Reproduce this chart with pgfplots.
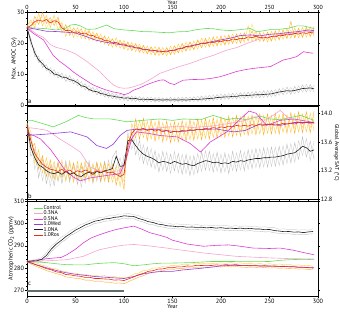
\documentclass[border=0pt]{standalone}
\usepackage{fontspec}
\setmainfont{PT Sans}
\usepackage{pgfplots}
\usepackage{pgfplotstable}
\pgfplotsset{compat=1.18}

\definecolor{ctrl}{RGB}{102,221,85}
\definecolor{nathree}{RGB}{245,165,205}
\definecolor{nafive}{RGB}{220,60,210}
\definecolor{wed}{RGB}{150,60,220}
\definecolor{nablk}{RGB}{30,30,30}
\definecolor{ros}{RGB}{232,45,20}
\definecolor{ensA}{RGB}{255,200,50}
\definecolor{ensB}{RGB}{255,165,25}
\definecolor{ensC}{RGB}{255,222,110}
\definecolor{ensG}{RGB}{205,205,205}
\definecolor{ensH}{RGB}{185,185,185}
\definecolor{fwbar}{RGB}{95,112,108}

% AMOC maximum (Sv): ensemble means and members
\pgfplotstableread{
t red y1 y2 y3 blk g1 g2
0 25.0 25.5 24.6 25.2 25.0 25.3 24.7
4 25.6 27.5 24.2 26.8 20.5 19.2 21.5
8 26.9 25.0 28.6 25.9 16.8 18.0 15.5
12 27.4 29.5 26.0 27.8 14.5 13.6 15.8
16 27.0 25.6 29.8 28.4 13.3 14.6 12.1
20 27.6 28.9 26.3 24.8 11.8 11.0 13.0
24 26.5 24.9 28.2 27.3 11.2 12.1 10.0
28 27.2 29.0 25.6 26.4 10.0 9.3 11.4
32 26.8 24.3 28.4 27.6 9.7 10.6 8.7
36 24.9 26.6 23.2 25.5 9.0 8.4 10.3
40 24.0 22.1 25.9 24.6 8.9 9.8 7.6
44 24.1 25.5 22.4 23.0 8.2 7.4 9.5
48 23.4 21.8 24.9 24.2 7.9 8.6 6.8
52 23.6 25.0 22.9 21.9 7.2 6.1 8.3
56 23.0 21.5 24.6 23.8 6.2 7.6 5.6
60 23.2 24.4 21.3 22.5 5.9 4.8 6.9
64 22.5 20.9 23.9 24.3 5.0 6.3 4.4
68 22.4 23.6 21.0 20.8 4.5 3.9 5.7
72 21.7 20.4 23.2 22.7 4.3 5.4 3.3
76 21.5 22.9 20.1 21.0 3.7 3.0 4.8
80 20.8 19.6 22.3 22.0 3.5 4.6 2.6
84 20.7 22.0 19.2 20.1 3.0 2.3 4.1
88 20.1 18.6 21.4 21.2 2.9 3.9 2.0
92 20.2 21.7 18.8 19.3 2.6 1.8 3.5
96 19.6 18.3 21.0 20.5 2.5 3.6 1.6
100 19.7 20.9 18.0 18.6 2.2 1.4 3.2
104 19.0 17.6 20.4 19.9 2.3 3.0 1.3
108 19.1 20.2 17.5 18.0 2.0 1.2 2.9
112 18.4 17.2 19.8 19.5 2.1 2.8 1.1
116 18.5 19.6 17.0 17.4 1.8 1.0 2.7
120 17.8 16.7 19.3 18.9 1.9 2.6 1.0
124 17.9 19.0 16.5 16.9 1.7 0.9 2.5
128 17.4 16.2 18.8 18.6 1.8 2.6 1.0
132 17.6 18.9 16.0 16.6 1.6 0.9 2.4
136 17.1 15.9 18.7 18.2 1.7 2.5 1.0
140 17.3 18.6 16.1 16.3 1.6 0.9 2.3
144 17.1 15.8 18.5 18.4 1.7 2.4 1.0
148 17.6 19.0 16.2 16.5 1.6 0.9 2.5
152 17.5 16.3 19.1 18.9 1.7 2.4 1.0
156 18.2 19.6 16.8 17.0 1.6 0.9 2.5
160 18.2 17.0 19.9 19.6 1.7 2.6 1.0
164 18.9 20.3 17.4 17.6 1.6 1.0 2.5
168 18.7 17.5 20.4 20.1 1.7 2.6 1.1
172 19.3 20.7 17.8 18.0 1.8 1.1 2.7
176 19.4 18.1 21.0 20.6 1.8 2.8 1.2
180 20.0 21.6 18.4 18.9 1.9 1.2 2.9
184 19.8 18.6 21.5 21.0 2.0 3.0 1.3
188 20.3 21.8 18.7 19.2 2.1 1.4 3.1
192 20.1 18.9 22.0 21.4 2.2 3.3 1.4
196 20.6 22.2 19.0 19.5 2.4 1.6 3.4
200 20.4 19.2 22.3 21.6 2.5 3.6 1.7
204 20.9 22.5 19.3 19.8 2.6 1.8 3.5
208 20.7 19.5 22.6 22.1 2.6 3.7 1.8
212 21.3 22.9 19.8 20.2 2.8 1.9 3.8
216 21.1 19.9 23.0 22.4 2.8 3.9 2.0
220 21.5 23.2 20.0 20.5 3.0 2.0 4.0
224 21.4 20.2 23.3 22.8 3.0 4.1 2.1
228 22.0 25.6 20.6 21.0 3.1 2.2 4.2
232 21.7 20.4 23.9 26.2 3.2 4.3 2.2
236 22.2 23.7 20.7 21.3 3.3 2.3 4.4
240 21.7 20.4 23.4 22.9 3.3 4.5 2.3
244 21.9 23.4 20.5 20.9 3.4 2.4 4.6
248 21.6 20.3 23.5 23.1 3.5 4.7 2.5
252 22.1 23.8 20.6 21.0 3.6 2.6 4.8
256 22.0 20.8 23.9 23.4 3.9 5.0 2.8
260 22.5 24.2 21.0 21.4 4.2 3.1 5.3
264 22.4 21.2 24.3 23.8 4.4 5.6 3.3
268 22.9 24.6 21.4 21.7 4.6 3.5 5.8
272 22.7 21.5 27.0 24.2 4.5 5.7 3.4
276 23.1 24.8 21.6 22.0 4.7 3.6 6.0
280 22.9 21.7 24.8 24.4 5.0 6.2 3.9
284 23.3 25.0 21.8 22.2 5.3 4.1 6.5
288 23.1 21.9 25.1 24.6 5.4 6.7 4.2
292 23.4 25.2 22.0 22.4 5.5 4.3 6.6
296 23.2 22.1 25.3 24.7 5.2 6.4 4.1
}\amoc

% Global average surface air temperature (degC)
\pgfplotstableread{
t red y1 y2 y3 blk g1 g2
0 13.83 13.86 13.80 13.84 13.85 13.87 13.82
4 13.62 13.74 13.50 13.66 13.52 13.63 13.40
8 13.44 13.30 13.58 13.41 13.38 13.22 13.50
12 13.36 13.49 13.22 13.30 13.28 13.38 13.10
16 13.29 13.17 13.41 13.36 13.25 13.06 13.37
20 13.25 13.38 13.12 13.20 13.20 13.30 13.02
24 13.22 13.10 13.35 13.30 13.17 12.98 13.27
28 13.21 13.33 13.08 13.14 13.16 13.28 12.99
32 13.19 13.06 13.31 13.27 13.18 13.05 13.33
36 13.22 13.35 13.10 13.16 13.15 13.29 13.02
40 13.18 13.05 13.29 13.26 13.19 13.08 13.34
44 13.21 13.34 13.08 13.13 13.15 13.30 13.04
48 13.17 13.04 13.30 13.25 13.17 13.06 13.31
52 13.20 13.33 13.07 13.12 13.13 13.27 13.01
56 13.18 13.06 13.31 13.27 13.12 12.97 13.26
60 13.21 13.34 13.09 13.14 13.16 13.29 13.03
64 13.19 13.05 13.30 13.24 13.18 13.08 13.34
68 13.17 13.30 13.05 13.12 13.15 13.28 13.02
72 13.20 13.08 13.32 13.27 13.19 13.05 13.31
76 13.18 13.31 13.06 13.11 13.17 13.30 13.04
80 13.19 13.05 13.31 13.25 13.20 13.07 13.33
84 13.17 13.30 13.04 13.10 13.21 13.35 13.08
88 13.18 13.04 13.29 13.23 13.23 13.12 13.38
92 13.15 13.27 13.00 13.07 13.40 13.26 13.48
96 13.12 12.98 13.24 13.20 13.26 13.38 13.10
100 13.15 13.30 12.94 13.05 13.27 13.12 13.40
104 13.55 13.42 13.68 13.60 13.62 13.74 13.48
108 13.72 13.86 13.60 13.70 13.63 13.50 13.76
112 13.78 13.66 13.92 13.84 13.55 13.68 13.42
116 13.77 13.90 13.64 13.72 13.48 13.35 13.62
120 13.79 13.66 13.93 13.86 13.43 13.56 13.30
124 13.76 13.89 13.62 13.70 13.40 13.28 13.53
128 13.78 13.64 13.91 13.85 13.38 13.51 13.25
132 13.75 13.88 13.61 13.68 13.35 13.22 13.48
136 13.77 13.63 13.90 13.83 13.31 13.44 13.18
140 13.74 13.87 13.60 13.66 13.33 13.20 13.47
144 13.76 13.62 13.89 13.82 13.32 13.46 13.19
148 13.73 13.86 13.59 13.65 13.30 13.16 13.43
152 13.75 13.61 13.88 13.81 13.33 13.47 13.20
156 13.74 13.87 13.60 13.67 13.31 13.17 13.44
160 13.76 13.62 13.90 13.83 13.29 13.43 13.15
164 13.75 13.88 13.61 13.68 13.30 13.16 13.43
168 13.77 13.63 13.91 13.84 13.28 13.41 13.13
172 13.76 13.89 13.62 13.69 13.27 13.14 13.41
176 13.78 13.64 13.92 13.86 13.30 13.44 13.17
180 13.77 13.90 13.63 13.70 13.32 13.19 13.46
184 13.79 13.65 13.93 13.87 13.34 13.48 13.21
188 13.78 13.91 13.64 13.71 13.33 13.20 13.47
192 13.80 13.66 13.94 13.88 13.31 13.44 13.18
196 13.79 13.92 13.65 13.72 13.32 13.19 13.46
200 13.81 13.67 13.95 13.89 13.30 13.43 13.17
204 13.80 13.93 13.66 13.73 13.31 13.18 13.45
208 13.82 13.68 13.96 13.90 13.30 13.43 13.16
212 13.81 13.94 13.67 13.74 13.33 13.20 13.47
216 13.83 13.69 13.97 13.91 13.32 13.45 13.19
220 13.82 13.95 13.68 13.75 13.34 13.21 13.48
224 13.83 13.70 13.98 13.92 13.33 13.46 13.20
228 13.82 13.96 13.69 13.76 13.35 13.22 13.49
232 13.84 13.71 13.98 13.93 13.36 13.50 13.23
236 13.83 13.96 13.70 13.77 13.37 13.24 13.51
240 13.84 13.71 13.99 13.93 13.37 13.51 13.24
244 13.83 13.97 13.70 13.77 13.38 13.25 13.52
248 13.85 13.72 13.99 13.94 13.38 13.52 13.25
252 13.84 13.97 13.71 13.78 13.39 13.26 13.53
256 13.85 13.72 14.00 13.94 13.39 13.53 13.26
260 13.84 13.98 13.71 13.78 13.40 13.27 13.54
264 13.86 13.73 14.00 13.95 13.41 13.55 13.28
268 13.85 13.98 13.72 13.79 13.43 13.30 13.57
272 13.86 13.73 14.01 13.95 13.44 13.58 13.31
276 13.85 13.99 13.72 13.79 13.45 13.32 13.59
280 13.87 13.74 14.02 13.96 13.49 13.62 13.36
284 13.86 13.99 13.73 13.80 13.54 13.41 13.67
288 13.87 13.74 14.02 13.96 13.52 13.65 13.39
292 13.86 14.00 13.73 13.80 13.47 13.34 13.61
296 13.88 13.75 14.03 13.97 13.49 13.62 13.36
}\sat

% Atmospheric CO2 (ppmv)
\pgfplotstableread{
t red y1 y2 blk g1 g2
0 283.0 283.2 282.8 283.0 283.3 282.7
5 282.2 282.8 281.7 283.2 283.6 282.7
10 281.4 282.3 280.7 283.3 284.0 282.8
15 280.7 281.4 279.9 283.9 284.7 283.0
20 279.8 280.9 278.9 285.7 287.0 284.6
25 279.3 280.0 278.3 288.5 289.9 287.3
30 278.4 279.7 277.6 290.7 291.7 289.3
35 278.1 278.9 277.1 292.3 293.8 291.4
40 277.2 278.5 276.1 294.1 295.0 292.8
45 277.0 277.8 275.9 295.5 296.9 294.7
50 276.6 277.9 275.5 297.0 297.9 295.7
55 276.4 277.2 275.3 298.1 299.5 297.0
60 275.9 277.3 274.7 299.3 300.1 298.2
65 275.9 276.8 274.7 300.1 301.4 299.0
70 275.4 276.9 274.1 301.0 301.8 300.0
75 275.4 276.4 274.1 301.4 302.7 300.3
80 275.2 276.7 273.8 302.0 302.8 301.0
85 275.1 276.1 273.8 302.2 303.5 301.1
90 274.7 276.3 273.3 302.7 303.5 301.7
95 274.8 275.8 273.4 302.9 304.2 301.8
100 274.5 276.0 273.1 303.4 304.2 302.4
105 275.3 276.1 274.1 303.2 304.5 302.1
110 276.1 277.4 275.0 303.1 303.9 302.1
115 277.1 277.8 276.0 302.2 303.5 301.2
120 277.7 279.0 276.7 301.6 302.4 300.6
125 278.6 279.2 277.7 300.8 302.1 299.7
130 278.9 280.1 278.0 300.4 301.2 299.4
135 279.6 280.1 278.7 299.7 301.0 298.7
140 279.7 280.8 278.9 299.4 300.2 298.4
145 280.2 280.8 279.4 298.9 300.2 297.9
150 280.2 281.3 279.4 298.8 299.6 297.8
155 280.6 281.2 279.8 298.5 299.8 297.5
160 280.6 281.7 279.8 298.6 299.4 297.6
165 281.0 281.6 280.2 298.3 299.6 297.3
170 280.9 282.0 280.1 298.4 299.2 297.4
175 281.3 281.9 280.5 298.2 299.5 297.2
180 281.2 282.3 280.4 298.3 299.1 297.3
185 281.3 281.9 280.5 298.0 299.3 297.0
190 281.2 282.2 280.4 298.2 299.0 297.2
195 281.5 282.1 280.7 297.9 299.2 296.9
200 281.3 282.4 280.5 298.1 298.9 297.1
205 281.6 282.2 280.8 297.8 299.1 296.8
210 281.4 282.5 280.6 297.9 298.7 296.9
215 281.6 282.2 280.7 297.7 299.0 296.7
220 281.3 282.4 280.5 297.9 298.6 296.9
225 281.3 282.0 280.4 297.6 298.9 296.6
230 281.1 282.2 280.3 297.8 298.5 296.8
235 281.2 281.8 280.3 297.5 298.8 296.5
240 281.0 282.1 280.2 297.5 298.3 296.5
245 281.1 281.7 280.3 297.2 298.5 296.2
250 280.9 282.0 280.1 297.3 298.1 296.3
255 281.0 281.6 280.2 296.8 298.1 295.8
260 280.8 281.9 280.0 296.6 297.4 295.6
265 280.9 281.5 280.1 296.3 297.6 295.3
270 280.6 281.7 279.8 296.4 297.2 295.4
275 280.7 281.3 279.9 296.1 297.4 295.1
280 280.4 281.5 279.6 296.2 297.0 295.2
285 280.5 281.1 279.7 295.9 297.2 294.9
290 280.2 281.3 279.4 296.2 297.0 295.2
295 280.1 280.8 279.3 296.4 297.6 295.4
}\cotwo

\pgfplotsset{
  panel/.style={
    width=291pt, scale only axis,
    xmin=0, xmax=300,
    xtick={0,50,...,300}, minor x tick num=4,
    tick align=outside,
    major tick length=2.2pt, minor tick length=1.2pt,
    tick style={black, line width=0.4pt},
    axis line style={line width=0.5pt},
    ticklabel style={font=\fontsize{6.2}{7}\selectfont, inner sep=0.6pt},
    label style={font=\fontsize{6}{6}\selectfont, inner sep=0.5pt},
    /pgf/number format/assume math mode=true,
  },
  ens/.style={line width=0.35pt, forget plot},
  mean/.style={line width=0.6pt, forget plot},
}

\begin{document}
\begin{tikzpicture}

% (a) maximum AMOC strength
\begin{axis}[panel, at={(0pt,0pt)}, anchor=north west, height=93pt,
  ymin=0, ymax=30, ytick={0,10,20,30}, minor y tick num=4,
  xticklabel pos=upper,
  xticklabel style={inner sep=0.3pt, font=\fontsize{5.9}{6}\selectfont},
  xlabel={Year},
  xlabel style={at={(axis description cs:0.5,1)}, anchor=north, yshift=11.9pt,
    inner sep=0pt, font=\fontsize{5.3}{5.5}\selectfont},
  ylabel={Max. AMOC (Sv)}, ylabel shift=-1pt]
\addplot[ens, ensG] table[x=t, y=g1] {\amoc};
\addplot[ens, ensH] table[x=t, y=g2] {\amoc};
\addplot[ens, ensC] table[x=t, y=y3] {\amoc};
\addplot[ens, ensA] table[x=t, y=y1] {\amoc};
\addplot[ens, ensB] table[x=t, y=y2] {\amoc};
\addplot[mean, ctrl] coordinates {(0,25) (10,24.8) (20,24.6) (30,24.2) (40,24.8) (45,25.8) (50,26) (55,25.5) (62,24.4) (70,24.5) (75,25) (82,25.8) (90,24.6) (100,24.2) (110,24) (118,23.7) (130,23.6) (140,23.4) (147,23.3) (155,23.6) (165,23.7) (175,24.3) (185,24.7) (192,24.6) (200,24.2) (210,24) (216,24.2) (225,24.5) (230,24.7) (237,23.6) (245,24) (252,24.4) (260,24.4) (270,24.8) (278,25.5) (285,25.5) (292,25) (296,24.6)};
\addplot[mean, nathree] coordinates {(0,25) (5,24) (10,22.8) (17,21.8) (24,19.5) (30,18.6) (41,17.7) (50,16.5) (62,14) (70,12) (75,10.8) (82,8.5) (89,6.5) (95,5.6) (100,5.4) (105,5.5) (110,5.9) (117,6.6) (123,7.5) (130,8.8) (137,10.2) (147,11.3) (157,12.4) (168,13.4) (182,15) (192,16) (206,17.7) (216,18.5) (227,19.9) (240,21.3) (250,22) (260,22.6) (270,23) (280,23.4) (290,23.7) (296,23.7)};
\addplot[mean, nafive] coordinates {(0,25) (3,24) (7,23) (12,22) (17,21) (22,18.5) (27,16) (34,14) (41,12.4) (48,10.6) (55,9.1) (62,7.7) (68,6.5) (75,5.6) (82,4.8) (89,4.2) (96,3.8) (100,3.3) (105,3.8) (110,4.8) (117,5.6) (123,6.5) (130,7.3) (137,8) (141,8.1) (144,7.6) (147,7) (152,6.6) (161,8) (170,8.2) (182,8.3) (190,8.6) (199,9.1) (208,10) (216,10.8) (225,11.4) (233,11.8) (242,12.1) (251,12.4) (258,13.5) (264,14.5) (271,15) (278,15.6) (285,17.2) (290,16.9) (295,16.7)};
\addplot[mean, wed] coordinates {(0,25) (10,24.4) (20,23.8) (30,23.7) (40,23.5) (50,23.2) (60,22.2) (70,21) (80,20.3) (90,19.8) (100,19.3) (110,18.6) (120,18) (130,17.6) (140,17.3) (150,17.6) (160,18.4) (170,19.2) (180,19.8) (190,20.4) (200,21) (210,21.6) (220,22.4) (230,22.6) (240,22.3) (250,22.8) (260,23) (270,23.4) (280,23.7) (290,24.2) (296,24)};
\addplot[mean, nablk] table[x=t, y=blk] {\amoc};
\addplot[mean, ros] table[x=t, y=red] {\amoc};
\node[anchor=south west, inner sep=1pt, font=\fontsize{6.5}{7}\selectfont] at (rel axis cs:0,0) {a};
\end{axis}

% (b) global average surface air temperature
\begin{axis}[panel, at={(0pt,-94pt)}, anchor=north west, height=93.5pt,
  ymin=12.8, ymax=14.1, ytick={12.8,13.2,13.6,14.0}, minor y tick num=3,
  yticklabel pos=right, xticklabels={},
  yticklabel style={inner sep=0.4pt, /pgf/number format/.cd, fixed, fixed zerofill, precision=1},
  ylabel={Global Average SAT (°C)},
  ylabel style={at={(axis description cs:1.064,0.5)}, anchor=center, rotate=180,
    inner sep=0pt, font=\fontsize{5.6}{6}\selectfont}]
\addplot[ens, ensG] table[x=t, y=g1] {\sat};
\addplot[ens, ensH] table[x=t, y=g2] {\sat};
\addplot[ens, ensC] table[x=t, y=y3] {\sat};
\addplot[ens, ensA] table[x=t, y=y1] {\sat};
\addplot[ens, ensB] table[x=t, y=y2] {\sat};
\addplot[mean, ctrl] coordinates {(0,13.9) (5,13.9) (15,13.86) (27,13.81) (40,13.88) (53,13.97) (60,13.94) (69,13.92) (86,13.92) (95,13.9) (103,13.88) (119,13.9) (137,13.92) (150,13.9) (161,13.92) (179,13.91) (192,13.97) (206,13.91) (215,13.93) (227,13.91) (240,13.96) (250,13.92) (261,13.91) (272,13.94) (282,13.97) (292,13.92) (296,13.9)};
\addplot[mean, nathree] coordinates {(0,13.8) (8,13.79) (21,13.76) (34,13.64) (45,13.55) (55,13.46) (65,13.25) (75,13.2) (85,13.18) (95,13.2) (100,13.3) (106,13.6) (113,13.75) (125,13.78) (140,13.8) (155,13.82) (170,13.8) (190,13.82) (210,13.86) (225,13.9) (234,13.95) (245,13.9) (255,13.98) (261,14.04) (268,13.95) (280,13.88) (296,13.86)};
\addplot[mean, nafive] coordinates {(0,13.72) (7,13.69) (14,13.64) (24,13.5) (31,13.37) (38,13.23) (48,13.11) (55,13.06) (65,13.1) (75,13.12) (85,13.14) (96,13.16) (102,13.35) (108,13.65) (113,13.74) (125,13.72) (137,13.69) (155,13.67) (168,13.58) (179,13.46) (189,13.6) (206,13.74) (220,13.92) (229,14.03) (236,14.0) (247,13.83) (261,13.9) (275,13.92) (292,13.88) (296,13.86)};
\addplot[mean, wed] coordinates {(0,13.69) (10,13.7) (21,13.71) (45,13.74) (62,13.67) (72,13.55) (82,13.51) (89,13.57) (96,13.69) (103,13.76) (113,13.78) (137,13.77) (155,13.74) (175,13.77) (195,13.78) (213,13.74) (225,13.76) (240,13.85) (261,13.83) (275,13.87) (296,13.87)};
\addplot[mean, nablk] table[x=t, y=blk] {\sat};
\addplot[mean, ros] table[x=t, y=red] {\sat};
\node[anchor=south west, inner sep=1pt, font=\fontsize{6.5}{7}\selectfont] at (rel axis cs:0,0) {b};
\end{axis}

% (c) atmospheric CO2
\begin{axis}[panel, at={(0pt,-189pt)}, anchor=north west, height=95pt,
  ymin=267.6, ymax=310, ytick={270,280,...,310}, minor y tick num=4,
  xlabel={Year}, xlabel shift=0.6pt,
  xlabel style={inner sep=0pt, font=\fontsize{5.6}{6}\selectfont},
  ylabel={Atmospheric CO\textsubscript{2} (ppmv)}, ylabel shift=-1.5pt,
  legend cell align=left,
  legend style={draw=none, fill=none, at={(0.01,0.985)}, anchor=north west,
    font=\fontsize{5.5}{6}\selectfont, row sep=-1.6pt, nodes={inner sep=0.8pt}},
  legend image code/.code={\draw[#1, line width=0.8pt] (0pt,0pt) -- (9pt,0pt);}]
\addlegendimage{ctrl}\addlegendentry{Control}
\addlegendimage{nathree}\addlegendentry{0.3NA}
\addlegendimage{nafive}\addlegendentry{0.5NA}
\addlegendimage{wed}\addlegendentry{1.0Wed}
\addlegendimage{nablk}\addlegendentry{1.0NA}
\addlegendimage{ros}\addlegendentry{1.0Ros}
\addplot[ens, ensG] table[x=t, y=g1] {\cotwo};
\addplot[ens, ensH] table[x=t, y=g2] {\cotwo};
\addplot[ens, ensA] table[x=t, y=y1] {\cotwo};
\addplot[ens, ensB] table[x=t, y=y2] {\cotwo};
\addplot[mean, ctrl] coordinates {(0,283) (10,282.8) (20,282.5) (30,282) (40,281.6) (50,281.5) (60,281.5) (70,282) (80,282.3) (90,282.5) (100,282) (110,281.1) (120,281.5) (130,282) (140,282.3) (150,282.3) (170,282.5) (190,283) (210,283) (230,282.9) (250,283) (260,283.5) (270,283.8) (285,284) (296,283.8)};
\addplot[mean, nathree] coordinates {(0,283) (20,283.3) (41,283.8) (58,285.3) (70,287.5) (75,288.3) (85,289.2) (92,289.8) (100,290.3) (110,290.6) (125,290) (144,289) (150,288.6) (170,287.5) (182,286.8) (200,286) (216,285.3) (240,284.8) (251,284.6) (270,284.3) (296,284.1)};
\addplot[mean, nafive] coordinates {(0,283) (12,283.8) (24,284.4) (35,284.8) (41,286) (50,288.5) (58,291.3) (66,293.5) (75,295) (84,296.3) (92,297.3) (100,298) (110,298.8) (118,297.5) (127,295.8) (136,294.8) (144,293.8) (150,292.5) (165,290.8) (182,289.8) (195,290.2) (208,290.4) (220,289.8) (233,289) (250,288.8) (261,289) (275,288) (285,287) (296,286)};
\addplot[mean, wed] coordinates {(0,283) (10,281.5) (20,280.2) (30,279) (40,278) (50,277.3) (60,276.8) (70,276.3) (80,276) (90,275.7) (100,275.4) (110,276.3) (120,277.5) (130,278.2) (140,278.6) (150,278.6) (160,279.2) (170,279.6) (180,280) (190,280.5) (200,281) (210,281.3) (220,281.2) (230,281.1) (240,281) (250,281) (260,280.8) (270,280.7) (280,280.5) (290,280.3) (296,280.2)};
\addplot[mean, nablk] table[x=t, y=blk] {\cotwo};
\addplot[mean, ros] table[x=t, y=red] {\cotwo};
% freshwater forcing period
\addplot[forget plot, fwbar, line width=1.8pt] coordinates {(0,270) (100,270)};
\node[anchor=south west, inner sep=1pt, font=\fontsize{6.5}{7}\selectfont] at (axis cs:0,271.5) {c};
\end{axis}

\pgfresetboundingbox
\path (-27pt,12pt) rectangle (313pt,-301pt);
\end{tikzpicture}
\end{document}
